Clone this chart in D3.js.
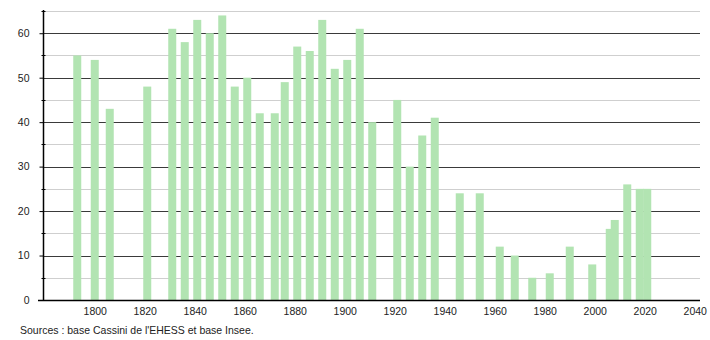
<!DOCTYPE html>
<html>
<head>
<meta charset="utf-8">
<script src="https://cdn.jsdelivr.net/npm/d3@7"></script>
<style>
  body { margin: 0; background: #fff; }
  svg text { font-family: "Liberation Sans", Arial, sans-serif; fill: #222; }
</style>
</head>
<body>
<svg id="chart" width="710" height="340"></svg>
<script>
// census years and population
var years = [1793, 1800, 1806, 1821, 1831, 1836, 1841, 1846, 1851, 1856,
  1861, 1866, 1872, 1876, 1881, 1886, 1891, 1896, 1901, 1906,
  1911, 1921, 1926, 1931, 1936, 1946, 1954, 1962, 1968, 1975,
  1982, 1990, 1999, 2006, 2008, 2013, 2018, 2021];
var population = [55, 54, 43, 48, 61, 58, 63, 60, 64, 48,
  50, 42, 42, 49, 57, 56, 63, 52, 54, 61,
  40, 45, 30, 37, 41, 24, 24, 12, 10, 5,
  6, 12, 8, 16, 18, 26, 25, 25];
var xTicks = [1800, 1820, 1840, 1860, 1880, 1900, 1920, 1940, 1960, 1980, 2000, 2020, 2040];
var yTicks = [0, 10, 20, 30, 40, 50, 60];
var yMinor = [5, 15, 25, 35, 45, 55, 65];
var source = "Sources : base Cassini de l'EHESS et base Insee.";

var svg = d3.select("#chart");
var plotLeft = 43, plotRight = 700, plotTop = 11, plotBottom = 300;
var fontSize = 10.5;

var x = d3.scaleLinear().domain([1779.3, 2042.1]).range([plotLeft, plotRight]);
var y = d3.scaleLinear().domain([0, 65]).range([plotBottom, plotTop]);

var data = years.map(function(d, i) { return {year: d, value: population[i]}; });

// minor gridlines
svg.append("g").selectAll("line")
  .data(yMinor).enter().append("line")
  .attr("x1", plotLeft).attr("x2", plotRight)
  .attr("y1", function(d) { return Math.round(y(d)) + 0.5; })
  .attr("y2", function(d) { return Math.round(y(d)) + 0.5; })
  .attr("stroke", "#cfcfcf").attr("stroke-width", 1);

// major gridlines
svg.append("g").selectAll("line")
  .data(yTicks.slice(1)).enter().append("line")
  .attr("x1", plotLeft).attr("x2", plotRight)
  .attr("y1", function(d) { return Math.round(y(d)) + 0.5; })
  .attr("y2", function(d) { return Math.round(y(d)) + 0.5; })
  .attr("stroke", "#3a3a3a").attr("stroke-width", 1);

// bars
var barW = 8;
svg.append("g").selectAll("rect")
  .data(data).enter().append("rect")
  .attr("x", function(d) { return x(d.year) - barW / 2; })
  .attr("y", function(d) { return y(d.value); })
  .attr("width", barW)
  .attr("height", function(d) { return plotBottom - y(d.value); })
  .attr("fill", "#b2e4b2");

// y axis
var yAxis = d3.axisLeft(y).tickValues(yTicks).tickSize(4).tickPadding(10)
  .tickFormat(d3.format("d"));
var gy = svg.append("g").attr("transform", "translate(" + (plotLeft + 0.5) + ",0)").call(yAxis);
gy.select(".domain").remove();
gy.selectAll(".tick line").attr("stroke", "#000");
gy.selectAll("text").attr("font-size", fontSize).style("font-family", "Liberation Sans, Arial, sans-serif");
gy.selectAll(".minor").data(yMinor).enter().append("line")
  .attr("x1", -2).attr("x2", 2)
  .attr("y1", function(d) { return Math.round(y(d)) + 0.5; })
  .attr("y2", function(d) { return Math.round(y(d)) + 0.5; })
  .attr("stroke", "#000");
svg.append("line")
  .attr("x1", plotLeft + 0.5).attr("x2", plotLeft + 0.5)
  .attr("y1", plotTop - 1).attr("y2", plotBottom)
  .attr("stroke", "#000").attr("stroke-width", 1.5);

// x axis
var xAxis = d3.axisBottom(x).tickValues(xTicks).tickSize(0).tickPadding(8)
  .tickFormat(d3.format("d"));
var gx = svg.append("g").attr("transform", "translate(0," + plotBottom + ")").call(xAxis);
gx.select(".domain").remove();
gx.selectAll("text").attr("font-size", fontSize).style("font-family", "Liberation Sans, Arial, sans-serif");
svg.append("line")
  .attr("x1", 38).attr("x2", plotRight)
  .attr("y1", plotBottom + 0.5).attr("y2", plotBottom + 0.5)
  .attr("stroke", "#000").attr("stroke-width", 1.5);

// source note
svg.append("text")
  .attr("x", 20).attr("y", 334)
  .attr("font-size", fontSize)
  .text(source);
</script>
</body>
</html>
